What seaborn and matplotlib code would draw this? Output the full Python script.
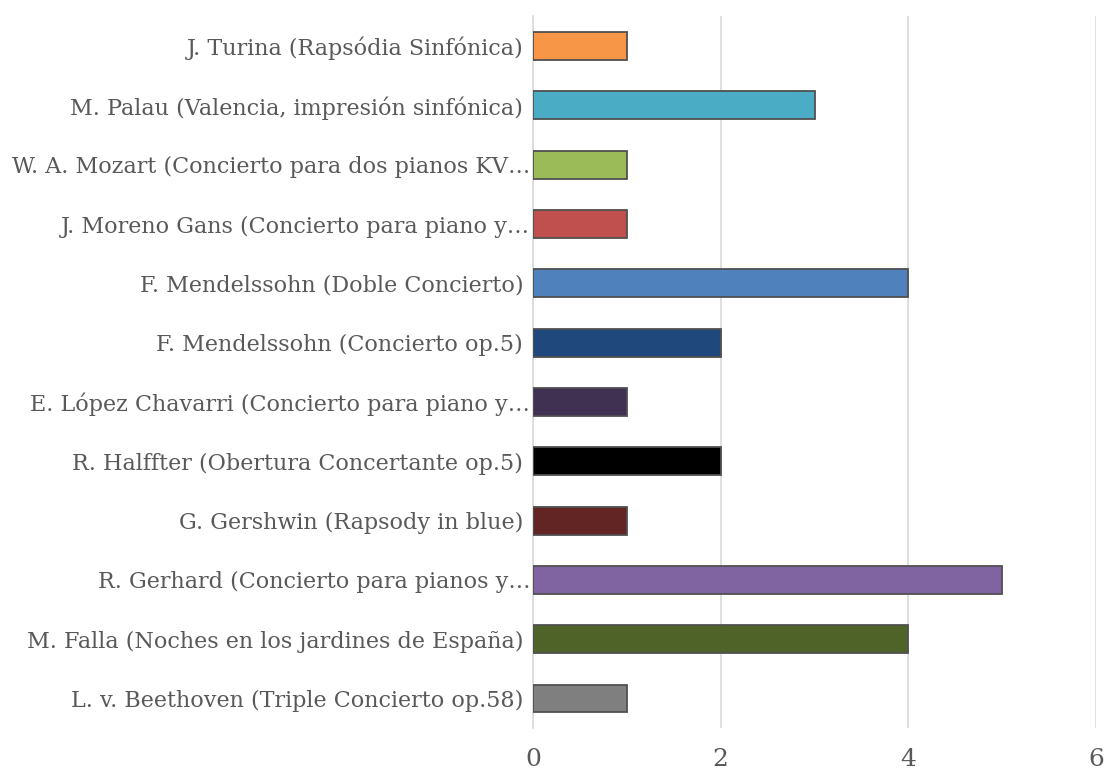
import seaborn as sns
import matplotlib.pyplot as plt
import pandas as pd

# categories top -> bottom, as in the chart
obras = [
    "J. Turina (Rapsódia Sinfónica) ",
    "M. Palau (Valencia, impresión sinfónica) ",
    "W. A. Mozart (Concierto para dos pianos KV…",
    "J. Moreno Gans (Concierto para piano y…",
    "F. Mendelssohn (Doble Concierto) ",
    "F. Mendelssohn (Concierto op.5) ",
    "E. López Chavarri (Concierto para piano y…",
    "R. Halffter (Obertura Concertante op.5) ",
    "G. Gershwin (Rapsody in blue) ",
    "R. Gerhard (Concierto para pianos y…",
    "M. Falla (Noches en los jardines de España) ",
    "L. v. Beethoven (Triple Concierto op.58) ",
]
veces = [1, 3, 1, 1, 4, 2, 1, 2, 1, 5, 4, 1]
colores = [
    "#F79646", "#4BACC6", "#9BBB59", "#C0504D", "#4F81BD", "#1F497D",
    "#403152", "#000000", "#632523", "#8064A2", "#4F6228", "#7F7F7F",
]
xticks = [0, 2, 4, 6]

df = pd.DataFrame({"obra": obras, "veces": veces})

sns.set_style("white")
plt.rcParams['font.family'] = ['DejaVu Serif', 'DejaVu Sans']

fig = plt.figure(figsize=(11.05, 7.78), dpi=100)
ax = fig.add_axes([0.4824, 0.064, 0.5095, 0.915])

sns.barplot(data=df, x="veces", y="obra", hue="obra", palette=colores,
            saturation=1, legend=False, width=0.47, edgecolor="#505050",
            linewidth=1.3, ax=ax, zorder=3)

ax.set_xlim(0, 6)
ax.set_xticks(xticks)
ax.set_xlabel("")
ax.set_ylabel("")
ax.grid(axis="x", color="#D9D9D9", linewidth=1.2, zorder=0)
for s in ["top", "right", "bottom"]:
    ax.spines[s].set_visible(False)
ax.spines["left"].set_color("#D9D9D9")
ax.spines["left"].set_linewidth(1.2)
ax.tick_params(axis="both", length=0, colors="#595959")
ax.tick_params(axis="x", labelsize=18, pad=14)
ax.tick_params(axis="y", labelsize=16, pad=2)

fig.savefig("out.png", dpi=100)
